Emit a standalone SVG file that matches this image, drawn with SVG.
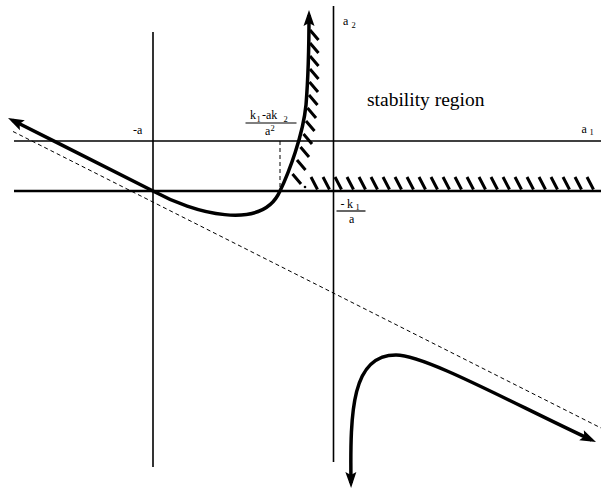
<svg xmlns="http://www.w3.org/2000/svg" width="602" height="498" viewBox="0 0 602 498">
<style>
.ax{stroke:#000;stroke-width:1.6;fill:none}
.ax2{stroke:#000;stroke-width:2.6;fill:none}
.cv{stroke:#000;stroke-width:3.5;fill:none;stroke-linejoin:round}
.ht{stroke:#000;stroke-width:3;fill:none}
.ds{stroke:#000;stroke-width:1;fill:none;stroke-dasharray:4 3}
text{font-family:"Liberation Serif","Times New Roman",serif;fill:#000;font-size:12px}
.sub{font-size:8.5px}
</style>
<defs>
<marker id="ah" markerUnits="userSpaceOnUse" markerWidth="30" markerHeight="30" orient="auto-start-reverse" overflow="visible">
<path d="M5,0 L-11,-5.5 L-8,0 L-11,5.5 Z" fill="#000"/>
</marker>
</defs>
<rect width="602" height="498" fill="#fff"/>
<g id="axes">
<line class="ax" x1="153" y1="32" x2="153" y2="467"/>
<line class="ax" x1="333.5" y1="6" x2="333.5" y2="462"/>
<line class="ax" x1="14" y1="141" x2="601" y2="141"/>
<line class="ax2" x1="14" y1="191" x2="601" y2="191"/>
</g>
<g id="asymptote">
<line class="ds" x1="13" y1="131.5" x2="601" y2="428"/>
<line class="ds" x1="280" y1="141" x2="280" y2="191" stroke-dasharray="3 2"/>
</g>
<g id="curves">
<path class="cv" marker-start="url(#ah)" marker-end="url(#ah)" d="M12.5,120.3 C60,144 115,172 153,191 C193,213 262,232 280,191 C289,172.5 303,135 306,105 C308,80 309,50 309,15"/>
<path class="cv" marker-start="url(#ah)" marker-end="url(#ah)" d="M351,483 C350,410 352,355 396,355 C425,355 510,402 591.5,440"/>
</g>
<g id="hatch-curve">
<path class="ht" d="M310,30 l8.5,10 M310,43 l8.5,10 M310,56 l8.5,10 M310,69 l8.5,10 M309.5,82 l8.5,10 M309,95 l8.5,10 M307.5,108 l8.5,10 M306,121 l8.5,10 M303.5,134 l8.5,10 M300.5,147 l8.5,10 M297,160 l8.5,10 M292.5,174 l8.5,10"/>
<circle cx="305" cy="187" r="1.3" fill="#000"/>
</g>
<g id="hatch-axis">
<path class="ht" d="M311,177 l6.5,12.5 M323,177 l6.5,12.5 M335,177 l6.5,12.5 M347,177 l6.5,12.5 M359,177 l6.5,12.5 M371,177 l6.5,12.5 M383,177 l6.5,12.5 M395,177 l6.5,12.5 M407,177 l6.5,12.5 M419,177 l6.5,12.5 M431,177 l6.5,12.5 M443,177 l6.5,12.5 M455,177 l6.5,12.5 M467,177 l6.5,12.5 M479,177 l6.5,12.5 M491,177 l6.5,12.5 M503,177 l6.5,12.5 M515,177 l6.5,12.5 M527,177 l6.5,12.5 M539,177 l6.5,12.5 M551,177 l6.5,12.5 M563,177 l6.5,12.5 M575,177 l6.5,12.5 M587,177 l6.5,12.5"/>
</g>
<g id="labels">
<text x="367" y="105.5" style="font-size:19.5px">stability region</text>
<text x="343" y="25">a<tspan class="sub" x="351.5" y="27.5">2</tspan></text>
<text x="581.5" y="132.5">a<tspan class="sub" x="589.5" y="135">1</tspan></text>
<text x="133" y="134">-a</text>
<g id="frac1">
<text x="250" y="119">k<tspan class="sub" x="256.5" y="121.5">1</tspan><tspan x="262" y="119">-ak</tspan><tspan class="sub" x="283.5" y="121.5">2</tspan></text>
<line x1="245.5" y1="123" x2="296.5" y2="123" stroke="#000" stroke-width="1.2"/>
<text x="265" y="135">a<tspan class="sub" x="270.5" y="130.5">2</tspan></text>
</g>
<g id="frac2">
<text x="340.5" y="207.5">-<tspan x="347" y="207.5">k</tspan><tspan class="sub" x="355.5" y="210">1</tspan></text>
<line x1="336.5" y1="211" x2="365.5" y2="211" stroke="#000" stroke-width="1.2"/>
<text x="349" y="222.5">a</text>
</g>
</g>
</svg>
